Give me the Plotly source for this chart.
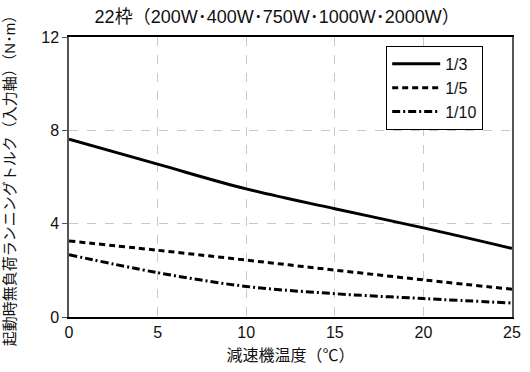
import plotly.graph_objects as go

x_temp = [0, 5, 10, 15, 20, 25]
ratio_1_3 = [7.62, 6.55, 5.49, 4.64, 3.82, 2.94]
ratio_1_5 = [3.26, 2.86, 2.44, 2.01, 1.59, 1.19]
ratio_1_10 = [2.67, 1.90, 1.31, 1.00, 0.79, 0.60]
series_names = ["1/3", "1/5", "1/10"]
x_ticks = [0, 5, 10, 15, 20, 25]
y_ticks = [0, 4, 8, 12]

FONT = "Liberation Sans, Noto Sans CJK JP, sans-serif"

fig = go.Figure()
for name, ys, dash in zip(series_names, [ratio_1_3, ratio_1_5, ratio_1_10],
                          ["solid", "6px,4px", "8px,3px,2px,3px"]):
    fig.add_trace(go.Scatter(x=x_temp, y=ys, name=name, mode="lines",
                             line=dict(color="black", width=3, dash=dash, shape="spline")))

fig.update_layout(
    width=530, height=372,
    margin=dict(l=69, r=18, t=37, b=55, autoexpand=False),
    paper_bgcolor="white", plot_bgcolor="white",
    font=dict(family=FONT, color="#111", size=16),
    title=dict(text="22枠（200W･400W･750W･1000W･2000W）", x=0.523, xanchor="center",
               y=0.956, yanchor="middle", font=dict(size=18, family=FONT)),
    showlegend=True,
    legend=dict(x=0.716, y=0.968, xanchor="left", yanchor="top",
                bordercolor="black", borderwidth=1, bgcolor="white",
                font=dict(size=16, family=FONT), tracegroupgap=2,
                itemwidth=48),
    xaxis=dict(range=[0, 25], tickvals=x_ticks, showgrid=True, gridcolor="#c8c8c8",
               griddash="dash", gridwidth=1, showline=True, linecolor="black", linewidth=1.5,
               mirror=True, ticks="", zeroline=False, automargin=False,
               title=dict(text="減速機温度（℃）", font=dict(size=16, family=FONT), standoff=10),
               tickfont=dict(size=16)),
    yaxis=dict(range=[0, 12], tickvals=y_ticks, showgrid=True, gridcolor="#c8c8c8",
               griddash="dash", gridwidth=1, showline=True, linecolor="#555", linewidth=1.5,
               mirror=True, ticks="outside", ticklen=5, tickcolor="#555", zeroline=False,
               automargin=False,
               title=dict(text="起動時無負荷ランニングトルク（入力軸）（N･m）",
                          font=dict(size=15, family=FONT), standoff=22),
               tickfont=dict(size=16)),
)

fig.write_html("out.html", config={"displayModeBar": False},
               post_script="document.body.style.margin='0';")
